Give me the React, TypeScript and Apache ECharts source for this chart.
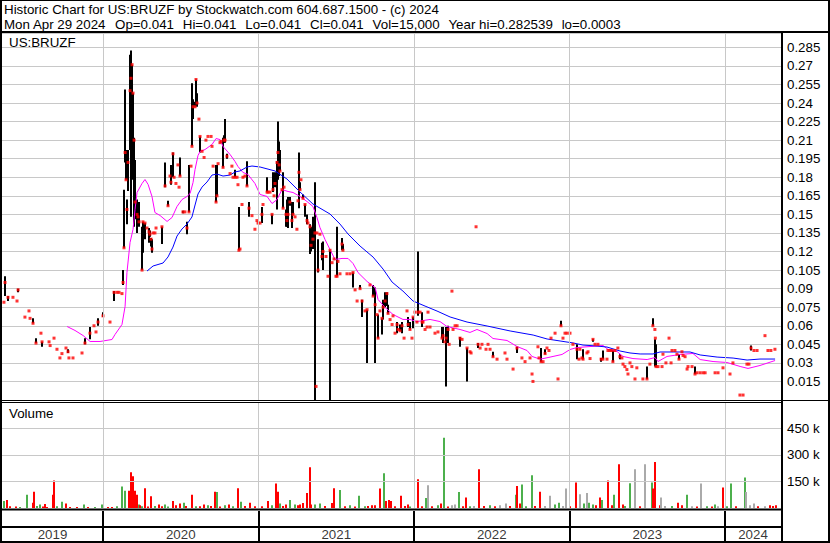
import React, { useEffect, useRef } from "react";
import * as echarts from "echarts";

// ---------- data ----------
// time is in decimal years; price tuples: [t, high, low, close]
const prices2019 = [
  [2019.363, 0.079, 0.079, 0.079], [2019.370, 0.100, 0.084, 0.095], [2019.389, 0.084, 0.080, 0.083],
  [2019.421, 0.083, 0.083, 0.083], [2019.447, 0.080, 0.080, 0.080], [2019.454, 0.090, 0.087, 0.089],
  [2019.498, 0.067, 0.067, 0.067], [2019.524, 0.072, 0.072, 0.072], [2019.531, 0.066, 0.066, 0.066],
  [2019.550, 0.066, 0.062, 0.062], [2019.569, 0.050, 0.046, 0.046], [2019.601, 0.054, 0.054, 0.054],
  [2019.608, 0.047, 0.043, 0.047], [2019.653, 0.047, 0.047, 0.047], [2019.660, 0.044, 0.044, 0.044],
  [2019.685, 0.050, 0.050, 0.050], [2019.704, 0.041, 0.041, 0.041], [2019.723, 0.034, 0.034, 0.034],
  [2019.736, 0.0375, 0.0375, 0.0375], [2019.762, 0.042, 0.042, 0.042], [2019.775, 0.041, 0.038, 0.039],
  [2019.781, 0.034, 0.034, 0.034], [2019.807, 0.034, 0.034, 0.034], [2019.865, 0.038, 0.038, 0.038],
  [2019.884, 0.050, 0.045, 0.046], [2019.916, 0.059, 0.049, 0.054], [2019.942, 0.060, 0.060, 0.060],
  [2019.955, 0.055, 0.055, 0.055], [2019.968, 0.066, 0.060, 0.063],
];
const prices2020 = [
  [2020.000, 0.071, 0.067, 0.068], [2020.045, 0.063, 0.063, 0.063], [2020.071, 0.088, 0.080, 0.087],
  [2020.090, 0.087, 0.087, 0.087], [2020.103, 0.087, 0.087, 0.087], [2020.122, 0.086, 0.086, 0.086],
  [2020.129, 0.105, 0.093, 0.095], [2020.135, 0.170, 0.123, 0.123], [2020.142, 0.251, 0.192, 0.200],
  [2020.148, 0.202, 0.178, 0.178], [2020.154, 0.162, 0.142, 0.154], [2020.161, 0.202, 0.169, 0.192],
  [2020.174, 0.279, 0.202, 0.250], [2020.180, 0.2825, 0.148, 0.260], [2020.187, 0.271, 0.235, 0.271],
  [2020.193, 0.248, 0.178, 0.248], [2020.200, 0.212, 0.140, 0.210], [2020.206, 0.194, 0.146, 0.160],
  [2020.219, 0.162, 0.135, 0.150], [2020.225, 0.160, 0.145, 0.148], [2020.232, 0.160, 0.140, 0.144],
  [2020.251, 0.140, 0.105, 0.105], [2020.257, 0.144, 0.119, 0.144], [2020.270, 0.143, 0.130, 0.143],
  [2020.283, 0.139, 0.139, 0.139], [2020.296, 0.139, 0.127, 0.136], [2020.302, 0.137, 0.132, 0.134],
  [2020.309, 0.131, 0.124, 0.130], [2020.315, 0.130, 0.119, 0.122], [2020.322, 0.135, 0.135, 0.135],
  [2020.334, 0.135, 0.135, 0.135], [2020.341, 0.139, 0.139, 0.139], [2020.379, 0.140, 0.126, 0.140],
  [2020.399, 0.192, 0.172, 0.173], [2020.418, 0.161, 0.157, 0.157], [2020.431, 0.181, 0.181, 0.181],
  [2020.437, 0.190, 0.174, 0.176], [2020.450, 0.200, 0.180, 0.199], [2020.457, 0.180, 0.180, 0.180],
  [2020.469, 0.175, 0.175, 0.175], [2020.482, 0.190, 0.190, 0.190], [2020.489, 0.172, 0.172, 0.172],
  [2020.495, 0.196, 0.181, 0.181], [2020.514, 0.153, 0.151, 0.152], [2020.527, 0.152, 0.152, 0.152],
  [2020.540, 0.144, 0.134, 0.139], [2020.553, 0.190, 0.152, 0.152], [2020.566, 0.189, 0.189, 0.189],
  [2020.572, 0.256, 0.205, 0.205], [2020.579, 0.243, 0.227, 0.237], [2020.592, 0.241, 0.237, 0.237],
  [2020.598, 0.259, 0.239, 0.259], [2020.605, 0.248, 0.237, 0.240], [2020.617, 0.227, 0.227, 0.227],
  [2020.624, 0.213, 0.200, 0.213], [2020.637, 0.201, 0.201, 0.201], [2020.650, 0.196, 0.196, 0.196],
  [2020.662, 0.210, 0.210, 0.210], [2020.675, 0.213, 0.213, 0.213], [2020.695, 0.213, 0.213, 0.213],
  [2020.701, 0.205, 0.205, 0.205], [2020.708, 0.189, 0.189, 0.189], [2020.727, 0.190, 0.160, 0.160],
  [2020.733, 0.190, 0.165, 0.165], [2020.740, 0.191, 0.191, 0.191], [2020.752, 0.208, 0.208, 0.208],
  [2020.759, 0.209, 0.209, 0.209], [2020.772, 0.212, 0.188, 0.188], [2020.778, 0.214, 0.208, 0.210],
  [2020.785, 0.227, 0.208, 0.210], [2020.797, 0.199, 0.195, 0.197], [2020.817, 0.183, 0.183, 0.183],
  [2020.829, 0.189, 0.189, 0.189], [2020.836, 0.180, 0.180, 0.180], [2020.849, 0.186, 0.180, 0.180],
  [2020.862, 0.180, 0.180, 0.180], [2020.868, 0.174, 0.174, 0.174], [2020.874, 0.156, 0.121, 0.121],
  [2020.881, 0.122, 0.122, 0.122], [2020.894, 0.158, 0.158, 0.158], [2020.900, 0.180, 0.180, 0.180],
  [2020.913, 0.181, 0.181, 0.181], [2020.926, 0.193, 0.173, 0.173], [2020.939, 0.160, 0.148, 0.155],
  [2020.958, 0.149, 0.149, 0.149], [2020.977, 0.138, 0.138, 0.138], [2020.990, 0.145, 0.145, 0.145],
  [2020.997, 0.143, 0.143, 0.143],
];
const prices2021 = [
  [2021.010, 0.143, 0.143, 0.143], [2021.022, 0.156, 0.143, 0.150], [2021.029, 0.158, 0.158, 0.158],
  [2021.055, 0.180, 0.168, 0.168], [2021.061, 0.168, 0.168, 0.168], [2021.074, 0.168, 0.168, 0.168],
  [2021.087, 0.150, 0.142, 0.150], [2021.093, 0.184, 0.168, 0.170], [2021.100, 0.165, 0.165, 0.165],
  [2021.106, 0.184, 0.172, 0.175], [2021.119, 0.193, 0.154, 0.192], [2021.125, 0.225, 0.178, 0.200],
  [2021.132, 0.209, 0.181, 0.190], [2021.138, 0.202, 0.185, 0.185], [2021.151, 0.170, 0.170, 0.170],
  [2021.158, 0.184, 0.155, 0.155], [2021.164, 0.172, 0.172, 0.172], [2021.177, 0.154, 0.140, 0.150],
  [2021.183, 0.162, 0.140, 0.145], [2021.190, 0.164, 0.139, 0.150], [2021.202, 0.164, 0.157, 0.160],
  [2021.215, 0.160, 0.139, 0.145], [2021.222, 0.160, 0.150, 0.150], [2021.235, 0.148, 0.148, 0.148],
  [2021.247, 0.138, 0.138, 0.138], [2021.254, 0.161, 0.161, 0.161], [2021.260, 0.200, 0.155, 0.184],
  [2021.267, 0.176, 0.170, 0.170], [2021.273, 0.178, 0.178, 0.178], [2021.286, 0.166, 0.163, 0.163],
  [2021.299, 0.158, 0.148, 0.158], [2021.312, 0.150, 0.142, 0.145], [2021.318, 0.143, 0.143, 0.143],
  [2021.331, 0.142, 0.118, 0.140], [2021.338, 0.140, 0.120, 0.125], [2021.350, 0.148, 0.122, 0.130],
  [2021.363, 0.176, 0.0, 0.135], [2021.370, 0.011, 0.011, 0.011], [2021.376, 0.135, 0.135, 0.135],
  [2021.383, 0.130, 0.103, 0.105], [2021.395, 0.134, 0.134, 0.134], [2021.408, 0.127, 0.113, 0.116],
  [2021.415, 0.128, 0.105, 0.120], [2021.434, 0.116, 0.116, 0.116], [2021.447, 0.100, 0.100, 0.100],
  [2021.460, 0.121, 0.0, 0.121], [2021.473, 0.111, 0.111, 0.111], [2021.486, 0.114, 0.114, 0.114],
  [2021.498, 0.100, 0.100, 0.100], [2021.505, 0.140, 0.100, 0.100], [2021.511, 0.112, 0.112, 0.112],
  [2021.524, 0.102, 0.102, 0.102], [2021.537, 0.131, 0.121, 0.126], [2021.543, 0.126, 0.121, 0.121],
  [2021.569, 0.102, 0.102, 0.102], [2021.589, 0.102, 0.102, 0.102], [2021.608, 0.103, 0.091, 0.103],
  [2021.621, 0.089, 0.089, 0.089], [2021.634, 0.080, 0.080, 0.080], [2021.653, 0.093, 0.090, 0.090],
  [2021.666, 0.081, 0.067, 0.080], [2021.685, 0.072, 0.072, 0.072], [2021.698, 0.073, 0.030, 0.073],
  [2021.717, 0.093, 0.093, 0.093], [2021.737, 0.093, 0.084, 0.084], [2021.750, 0.091, 0.030, 0.077],
  [2021.762, 0.069, 0.069, 0.069], [2021.769, 0.069, 0.050, 0.050], [2021.781, 0.072, 0.072, 0.072],
  [2021.794, 0.066, 0.053, 0.066], [2021.801, 0.081, 0.065, 0.075], [2021.814, 0.087, 0.075, 0.080],
  [2021.826, 0.087, 0.076, 0.086], [2021.833, 0.077, 0.070, 0.070], [2021.846, 0.065, 0.065, 0.065],
  [2021.859, 0.061, 0.061, 0.061], [2021.865, 0.068, 0.068, 0.068], [2021.878, 0.054, 0.054, 0.054],
  [2021.891, 0.063, 0.054, 0.061], [2021.897, 0.057, 0.057, 0.057], [2021.910, 0.061, 0.056, 0.056],
  [2021.923, 0.063, 0.054, 0.060], [2021.936, 0.050, 0.050, 0.050], [2021.955, 0.072, 0.072, 0.072],
  [2021.962, 0.067, 0.059, 0.061], [2021.974, 0.063, 0.057, 0.057], [2021.987, 0.050, 0.050, 0.050],
  [2021.994, 0.067, 0.058, 0.067],
];
const prices2022 = [
  [2022.006, 0.071, 0.071, 0.071], [2022.019, 0.063, 0.063, 0.063], [2022.026, 0.120, 0.068, 0.071],
  [2022.039, 0.071, 0.071, 0.071], [2022.052, 0.071, 0.059, 0.063], [2022.058, 0.063, 0.063, 0.063],
  [2022.071, 0.057, 0.057, 0.057], [2022.084, 0.059, 0.059, 0.059], [2022.090, 0.071, 0.071, 0.071],
  [2022.103, 0.059, 0.059, 0.059], [2022.135, 0.054, 0.054, 0.054], [2022.154, 0.055, 0.055, 0.055],
  [2022.180, 0.059, 0.050, 0.050], [2022.187, 0.059, 0.046, 0.052], [2022.199, 0.047, 0.047, 0.047],
  [2022.206, 0.059, 0.011, 0.050], [2022.219, 0.060, 0.046, 0.057], [2022.226, 0.045, 0.045, 0.045],
  [2022.244, 0.088, 0.088, 0.088], [2022.251, 0.057, 0.057, 0.057], [2022.264, 0.060, 0.060, 0.060],
  [2022.277, 0.060, 0.060, 0.060], [2022.296, 0.051, 0.043, 0.050], [2022.309, 0.049, 0.049, 0.049],
  [2022.341, 0.042, 0.015, 0.042], [2022.360, 0.039, 0.039, 0.039], [2022.367, 0.038, 0.038, 0.038],
  [2022.399, 0.140, 0.140, 0.140], [2022.412, 0.046, 0.042, 0.045], [2022.425, 0.042, 0.042, 0.042],
  [2022.437, 0.045, 0.045, 0.045], [2022.463, 0.041, 0.041, 0.041], [2022.476, 0.045, 0.045, 0.045],
  [2022.489, 0.041, 0.041, 0.041], [2022.508, 0.039, 0.035, 0.035], [2022.534, 0.033, 0.033, 0.033],
  [2022.585, 0.038, 0.038, 0.038], [2022.598, 0.033, 0.033, 0.033], [2022.637, 0.025, 0.025, 0.025],
  [2022.662, 0.043, 0.038, 0.042], [2022.694, 0.034, 0.034, 0.034], [2022.714, 0.031, 0.031, 0.031],
  [2022.746, 0.034, 0.034, 0.034], [2022.759, 0.021, 0.021, 0.021], [2022.765, 0.015, 0.015, 0.015],
  [2022.797, 0.043, 0.043, 0.043], [2022.804, 0.034, 0.034, 0.034], [2022.817, 0.042, 0.031, 0.031],
  [2022.830, 0.031, 0.031, 0.031], [2022.843, 0.041, 0.037, 0.0375], [2022.855, 0.042, 0.042, 0.042],
  [2022.868, 0.040, 0.040, 0.040], [2022.881, 0.050, 0.050, 0.050], [2022.907, 0.054, 0.054, 0.054],
  [2022.926, 0.017, 0.017, 0.017], [2022.945, 0.064, 0.060, 0.060], [2022.958, 0.050, 0.050, 0.050],
  [2022.971, 0.054, 0.054, 0.054], [2022.984, 0.054, 0.054, 0.054],
];
const prices2023 = [
  [2023.003, 0.054, 0.054, 0.054], [2023.022, 0.045, 0.045, 0.045], [2023.048, 0.045, 0.033, 0.041],
  [2023.061, 0.033, 0.033, 0.033], [2023.067, 0.041, 0.041, 0.041], [2023.080, 0.034, 0.034, 0.034],
  [2023.087, 0.041, 0.033, 0.033], [2023.112, 0.038, 0.038, 0.038], [2023.119, 0.039, 0.039, 0.039],
  [2023.132, 0.0335, 0.0335, 0.0335], [2023.151, 0.049, 0.047, 0.049], [2023.164, 0.045, 0.045, 0.045],
  [2023.183, 0.045, 0.045, 0.045], [2023.203, 0.034, 0.031, 0.033], [2023.215, 0.040, 0.033, 0.033],
  [2023.241, 0.033, 0.033, 0.033], [2023.247, 0.040, 0.040, 0.040], [2023.260, 0.040, 0.040, 0.040],
  [2023.273, 0.040, 0.040, 0.040], [2023.279, 0.040, 0.031, 0.031], [2023.292, 0.040, 0.040, 0.040],
  [2023.311, 0.042, 0.042, 0.042], [2023.324, 0.037, 0.033, 0.035], [2023.337, 0.034, 0.034, 0.034],
  [2023.344, 0.029, 0.029, 0.029], [2023.356, 0.027, 0.027, 0.027], [2023.369, 0.0246, 0.0246, 0.0246],
  [2023.376, 0.021, 0.021, 0.021], [2023.389, 0.030, 0.030, 0.030], [2023.401, 0.027, 0.027, 0.027],
  [2023.421, 0.017, 0.017, 0.017], [2023.433, 0.026, 0.026, 0.026], [2023.472, 0.017, 0.017, 0.017],
  [2023.498, 0.027, 0.017, 0.017], [2023.517, 0.029, 0.029, 0.029], [2023.536, 0.066, 0.060, 0.060],
  [2023.549, 0.057, 0.057, 0.057], [2023.552, 0.049, 0.027, 0.050], [2023.556, 0.045, 0.027, 0.027],
  [2023.569, 0.027, 0.027, 0.027], [2023.595, 0.027, 0.027, 0.027], [2023.601, 0.037, 0.037, 0.037],
  [2023.620, 0.030, 0.030, 0.030], [2023.640, 0.050, 0.050, 0.050], [2023.653, 0.030, 0.030, 0.030],
  [2023.659, 0.040, 0.040, 0.040], [2023.678, 0.040, 0.040, 0.040], [2023.691, 0.037, 0.037, 0.037],
  [2023.704, 0.037, 0.033, 0.033], [2023.723, 0.039, 0.039, 0.039], [2023.730, 0.036, 0.036, 0.036],
  [2023.743, 0.035, 0.035, 0.035], [2023.756, 0.025, 0.025, 0.025], [2023.762, 0.027, 0.027, 0.027],
  [2023.788, 0.027, 0.027, 0.027], [2023.807, 0.027, 0.021, 0.021], [2023.820, 0.022, 0.022, 0.022],
  [2023.840, 0.022, 0.022, 0.022], [2023.859, 0.022, 0.022, 0.022], [2023.872, 0.022, 0.022, 0.022],
  [2023.936, 0.022, 0.022, 0.022], [2023.955, 0.022, 0.022, 0.022], [2023.987, 0.026, 0.026, 0.026],
];
const prices2024 = [
  [2024.032, 0.021, 0.021, 0.021], [2024.051, 0.030, 0.030, 0.030], [2024.096, 0.004, 0.004, 0.004],
  [2024.116, 0.004, 0.004, 0.004], [2024.141, 0.029, 0.029, 0.029], [2024.154, 0.029, 0.029, 0.029],
  [2024.167, 0.044, 0.040, 0.042], [2024.186, 0.040, 0.040, 0.040], [2024.206, 0.040, 0.040, 0.040],
  [2024.257, 0.052, 0.052, 0.052], [2024.276, 0.040, 0.040, 0.040], [2024.295, 0.040, 0.040, 0.040],
  [2024.321, 0.041, 0.041, 0.041],
];

// moving averages: [t, value]
const shortAvg = [
  [2019.769, 0.0594], [2019.820, 0.0562], [2019.872, 0.0521], [2019.917, 0.0473], [2019.981, 0.0473],
  [2020.058, 0.0489], [2020.077, 0.0529], [2020.122, 0.0610], [2020.142, 0.0756], [2020.154, 0.1030],
  [2020.174, 0.1273], [2020.193, 0.1378], [2020.206, 0.1540], [2020.219, 0.1677], [2020.251, 0.1750],
  [2020.270, 0.1782], [2020.290, 0.1742], [2020.315, 0.1645], [2020.334, 0.1515], [2020.367, 0.1491],
  [2020.412, 0.1443], [2020.444, 0.1475], [2020.476, 0.1564], [2020.508, 0.1620], [2020.540, 0.1645],
  [2020.560, 0.1669], [2020.579, 0.1758], [2020.592, 0.1863], [2020.611, 0.1976], [2020.624, 0.2008],
  [2020.656, 0.2024], [2020.701, 0.2065], [2020.727, 0.2113], [2020.752, 0.2105], [2020.772, 0.2049],
  [2020.817, 0.1984], [2020.849, 0.1928], [2020.868, 0.1887], [2020.900, 0.1839], [2020.932, 0.1823],
  [2020.977, 0.1750], [2021.010, 0.1661], [2021.055, 0.1645], [2021.087, 0.1588], [2021.119, 0.1620],
  [2021.151, 0.1701], [2021.190, 0.1685], [2021.222, 0.1677], [2021.267, 0.1645], [2021.312, 0.1604],
  [2021.350, 0.1564], [2021.376, 0.1475], [2021.395, 0.1394], [2021.428, 0.1297], [2021.460, 0.1216],
  [2021.492, 0.1136], [2021.537, 0.1144], [2021.576, 0.1144], [2021.608, 0.1103], [2021.640, 0.1030],
  [2021.698, 0.0958], [2021.750, 0.0909], [2021.769, 0.0812], [2021.814, 0.0748], [2021.865, 0.0691],
  [2021.929, 0.0651], [2021.974, 0.0651], [2022.019, 0.0634], [2022.103, 0.0651], [2022.167, 0.0634],
  [2022.212, 0.0594], [2022.296, 0.0570], [2022.360, 0.0546], [2022.405, 0.0570], [2022.470, 0.0537],
  [2022.508, 0.0497], [2022.598, 0.0481], [2022.663, 0.0432], [2022.727, 0.0400], [2022.759, 0.0352],
  [2022.811, 0.0330], [2022.862, 0.0343], [2022.894, 0.0352], [2022.952, 0.0368], [2023.003, 0.0408],
  [2023.048, 0.0424], [2023.132, 0.0432], [2023.216, 0.0440], [2023.248, 0.0408], [2023.306, 0.0392],
  [2023.344, 0.0352], [2023.408, 0.0335], [2023.499, 0.0327], [2023.550, 0.0343], [2023.569, 0.0311],
  [2023.627, 0.0352], [2023.711, 0.0368], [2023.794, 0.0376], [2023.840, 0.0327], [2023.923, 0.0311],
  [2024.013, 0.0303], [2024.097, 0.0271], [2024.148, 0.0255], [2024.225, 0.0279], [2024.322, 0.0319],
];
const longAvg = [
  [2020.283, 0.1042], [2020.322, 0.1083], [2020.386, 0.1107], [2020.418, 0.1156], [2020.450, 0.1236],
  [2020.476, 0.1325], [2020.508, 0.1382], [2020.540, 0.1422], [2020.572, 0.1479], [2020.592, 0.1576],
  [2020.611, 0.1665], [2020.637, 0.1721], [2020.669, 0.1762], [2020.701, 0.1818], [2020.733, 0.1826],
  [2020.772, 0.1810], [2020.817, 0.1818], [2020.849, 0.1843], [2020.881, 0.1851], [2020.926, 0.1883],
  [2020.958, 0.1891], [2021.010, 0.1883], [2021.106, 0.1851], [2021.183, 0.1786], [2021.267, 0.1681],
  [2021.350, 0.1584], [2021.460, 0.1503], [2021.524, 0.1422], [2021.576, 0.1341], [2021.653, 0.1244],
  [2021.737, 0.1155], [2021.801, 0.1058], [2021.859, 0.0953], [2021.929, 0.0880], [2021.994, 0.0800],
  [2022.071, 0.0759], [2022.148, 0.0719], [2022.232, 0.0671], [2022.341, 0.0630], [2022.470, 0.0598],
  [2022.618, 0.0558], [2022.766, 0.0525], [2022.856, 0.0493], [2022.939, 0.0477], [2023.023, 0.0461],
  [2023.087, 0.0444], [2023.177, 0.0436], [2023.241, 0.0428], [2023.325, 0.0396], [2023.389, 0.0380],
  [2023.454, 0.0372], [2023.537, 0.0372], [2023.582, 0.0388], [2023.666, 0.0388], [2023.775, 0.0388],
  [2023.840, 0.0364], [2023.949, 0.0347], [2024.052, 0.0339], [2024.142, 0.0323], [2024.225, 0.0331],
  [2024.322, 0.0331],
];

// volume: [t, volume, direction] direction 1 = up (green), -1 = down (red), 0 = unchanged (grey)
const volume2019 = [
  [2019.364, 40000, 1], [2019.383, 45000, -1], [2019.402, 10000, -1], [2019.441, 8000, -1], [2019.467, 5000, 1],
  [2019.512, 75000, 1], [2019.550, 30000, -1], [2019.557, 92000, -1], [2019.576, 12000, 1], [2019.595, 20000, 1],
  [2019.615, 8000, -1], [2019.627, 22000, -1], [2019.640, 6000, -1], [2019.679, 75000, -1], [2019.685, 156000, -1],
  [2019.705, 10000, 1], [2019.737, 35000, 1], [2019.762, 25000, -1], [2019.788, 6000, -1], [2019.833, 5000, -1],
  [2019.878, 20000, 1], [2019.904, 5000, -1], [2019.949, 5000, 1], [2019.994, 20000, 1],
];
const volume2020 = [
  [2020.033, 5000, -1], [2020.058, 5000, -1], [2020.090, 10000, 1], [2020.123, 121000, 1], [2020.142, 98000, 1],
  [2020.168, 98000, -1], [2020.180, 202000, -1], [2020.193, 179000, -1], [2020.206, 98000, -1], [2020.216, 75000, -1],
  [2020.229, 20000, 1], [2020.238, 15000, -1], [2020.251, 10000, 1], [2020.270, 112000, -1], [2020.290, 8000, -1],
  [2020.309, 67000, -1], [2020.335, 12000, 1], [2020.361, 20000, -1], [2020.380, 10000, -1], [2020.399, 20000, 1],
  [2020.418, 8000, 1], [2020.451, 40000, -1], [2020.470, 15000, -1], [2020.496, 25000, -1], [2020.521, 30000, 1],
  [2020.534, 12000, -1], [2020.573, 75000, -1], [2020.599, 10000, 1], [2020.624, 10000, -1], [2020.650, 20000, -1],
  [2020.676, 15000, 1], [2020.695, 12000, -1], [2020.721, 92000, -1], [2020.734, 90000, 1], [2020.753, 8000, -1],
  [2020.785, 15000, 1], [2020.811, 20000, -1], [2020.836, 10000, 1], [2020.869, 112000, -1], [2020.888, 35000, 1],
  [2020.914, 12000, -1], [2020.946, 30000, -1], [2020.978, 10000, -1],
];
const volume2021 = [
  [2021.023, 10000, -1], [2021.062, 40000, -1], [2021.087, 15000, 1], [2021.113, 139000, -1], [2021.126, 92000, -1],
  [2021.139, 25000, 1], [2021.158, 12000, -1], [2021.177, 20000, -1], [2021.203, 45000, 1], [2021.235, 20000, 1],
  [2021.254, 15000, -1], [2021.267, 20000, -1], [2021.287, 28000, -1], [2021.312, 85000, -1], [2021.332, 231000, -1],
  [2021.338, 20000, -1], [2021.364, 20000, 1], [2021.396, 25000, 1], [2021.428, 12000, -1], [2021.473, 28000, -1],
  [2021.486, 112000, -1], [2021.525, 102000, 1], [2021.557, 10000, -1], [2021.589, 15000, 1], [2021.621, 8000, -1],
  [2021.647, 70000, 1], [2021.685, 10000, 1], [2021.705, 12000, -1], [2021.730, 15000, -1], [2021.750, 15000, -1],
  [2021.782, 110000, -1], [2021.808, 196000, 1], [2021.820, 40000, -1], [2021.840, 45000, -1], [2021.853, 40000, -1],
  [2021.878, 10000, -1], [2021.917, 70000, -1], [2021.943, 12000, -1], [2021.962, 20000, -1], [2021.975, 8000, 1],
];
const volume2022 = [
  [2022.026, 162000, -1], [2022.052, 10000, -1], [2022.078, 57000, 1], [2022.091, 128000, 0], [2022.116, 10000, -1],
  [2022.155, 15000, 1], [2022.174, 25000, -1], [2022.193, 398000, 1], [2022.219, 8000, -1], [2022.245, 15000, 0],
  [2022.264, 20000, 0], [2022.290, 90000, 1], [2022.316, 10000, -1], [2022.335, 60000, -1], [2022.361, 10000, 1],
  [2022.386, 12000, 0], [2022.418, 219000, -1], [2022.451, 12000, -1], [2022.489, 15000, 1], [2022.521, 10000, -1],
  [2022.554, 15000, 0], [2022.592, 25000, 0], [2022.618, 12000, -1], [2022.656, 75000, 1], [2022.663, 125000, -1],
  [2022.682, 25000, -1], [2022.695, 133000, 1], [2022.721, 10000, 1], [2022.759, 185000, 1], [2022.779, 12000, -1],
  [2022.811, 92000, -1], [2022.843, 12000, 0], [2022.875, 70000, 0], [2022.907, 20000, 1], [2022.933, 30000, 1],
  [2022.959, 12000, 0], [2022.978, 110000, 0],
];
const volume2023 = [
  [2023.004, 10000, -1], [2023.042, 144000, -1], [2023.068, 78000, 0], [2023.094, 25000, 1], [2023.113, 85000, 0],
  [2023.126, 30000, 1], [2023.152, 20000, 1], [2023.171, 15000, -1], [2023.197, 60000, -1], [2023.210, 45000, 1],
  [2023.248, 156000, -1], [2023.274, 15000, -1], [2023.287, 75000, 1], [2023.319, 248000, -1], [2023.345, 20000, -1],
  [2023.357, 12000, 1], [2023.390, 140000, 1], [2023.422, 219000, 0], [2023.454, 10000, -1], [2023.486, 248000, 0],
  [2023.531, 144000, 1], [2023.537, 110000, -1], [2023.550, 260000, -1], [2023.583, 15000, -1], [2023.589, 60000, 0],
  [2023.615, 12000, 0], [2023.660, 12000, 1], [2023.698, 30000, -1], [2023.724, 15000, -1], [2023.756, 75000, 1],
  [2023.788, 10000, 0], [2023.820, 8000, -1], [2023.846, 139000, 0], [2023.885, 10000, 1], [2023.917, 8000, -1],
  [2023.936, 20000, 1], [2023.956, 10000, 0], [2023.988, 116000, -1],
];
const volume2024 = [
  [2024.013, 10000, 1], [2024.039, 139000, 1], [2024.071, 10000, -1], [2024.129, 173000, 1], [2024.136, 90000, 0],
  [2024.161, 15000, 0], [2024.187, 25000, 0], [2024.213, 10000, -1], [2024.258, 10000, 0], [2024.290, 15000, -1],
  [2024.309, 12000, -1], [2024.329, 15000, -1],
];

const yearTicks = [2020, 2021, 2022, 2023, 2024];
const yearLabels = [2019, 2020, 2021, 2022, 2023, 2024];
const volumeGridValues = [150000, 300000, 450000];

const titleLine = "Historic Chart for US:BRUZF by Stockwatch.com 604.687.1500 - (c) 2024";
const quoteParts = [
  "Mon Apr 29 2024", "Op=0.041", "Hi=0.041", "Lo=0.041", "Cl=0.041", "Vol=15,000", "Year hi=0.282539", "lo=0.0003",
];
const symbolName = "US:BRUZF";

// ---------- layout / styles ----------
const X_MIN = 2019.3505;
const X_MAX = 2024.36;
const FONT = '"Liberation Sans", Arial, Helvetica, sans-serif';
const FS = 13.33;
const GRID_GREY = "#c8c8c8";
const UP = "#4cb04c";
const DOWN = "#ff0000";
const FLAT = "#aaaaaa";
const QUOTE_GAP = 8.8;

const prices = [...prices2019, ...prices2020, ...prices2021, ...prices2022, ...prices2023, ...prices2024];
const volumes = [...volume2019, ...volume2020, ...volume2021, ...volume2022, ...volume2023, ...volume2024];

const frame = (x: number, y: number, w: number, h: number) => ({
  type: "rect",
  shape: { x, y, width: w, height: h },
  style: { fill: "#000" },
  z: 100,
  silent: true,
});

const textEl = (text: string, x: number, y: number) => ({
  type: "text",
  x,
  y,
  z: 100,
  silent: true,
  style: {
    text,
    font: `${FS}px ${FONT}`,
    fill: "#000",
    textVerticalAlign: "middle",
    verticalAlign: "middle",
  },
});

function quoteElements() {
  const ctx = document.createElement("canvas").getContext("2d");
  const els: any[] = [];
  let x = 4;
  quoteParts.forEach((p) => {
    els.push(textEl(p, x, 24));
    let w = p.length * 7;
    if (ctx) {
      ctx.font = `${FS}px ${FONT}`;
      w = ctx.measureText(p).width;
    }
    x += w + QUOTE_GAP;
  });
  return els;
}

function buildOption() {
  const xAxisBase = (gridIndex: number) => ({
    type: "value",
    gridIndex,
    min: X_MIN,
    max: X_MAX,
    show: false,
  });
  const vLines = (color: string, width: number) =>
    yearTicks.map((y) => ({ xAxis: y, lineStyle: { color, width, type: "solid" } }));
  const markBase = {
    silent: true,
    symbol: ["none", "none"],
    label: { show: false },
    emphasis: { disabled: true },
  };
  const yearMid = yearLabels.map((y) => {
    const lo = Math.max(y, X_MIN);
    const hi = Math.min(y + 1, X_MAX);
    return { value: [(lo + hi) / 2, 0.5], name: String(y) };
  });

  return {
    animation: false,
    backgroundColor: "#ffffff",
    textStyle: { fontFamily: FONT },
    grid: [
      { left: 2, top: 33, width: 779, height: 367 },
      { left: 2, top: 403, width: 779, height: 105 },
      { left: 2, top: 511, width: 779, height: 15 },
      { left: 2, top: 528, width: 779, height: 13 },
    ],
    xAxis: [xAxisBase(0), xAxisBase(1), xAxisBase(2), xAxisBase(3)],
    yAxis: [
      {
        type: "value",
        gridIndex: 0,
        position: "right",
        min: 0,
        max: 0.2966,
        interval: 0.015,
        axisLine: { show: false },
        axisTick: { show: false },
        axisLabel: {
          showMinLabel: false,
          showMaxLabel: false,
          margin: 6,
          color: "#000",
          fontSize: FS,
          fontFamily: FONT,
          formatter: (v: number) => String(+v.toFixed(3)),
        },
        splitLine: { show: true, lineStyle: { color: GRID_GREY, width: 1 } },
      },
      {
        type: "value",
        gridIndex: 1,
        position: "right",
        min: 0,
        max: 594000,
        interval: 150000,
        axisLine: { show: false },
        axisTick: { show: false },
        axisLabel: {
          showMinLabel: false,
          showMaxLabel: false,
          margin: 6,
          color: "#000",
          fontSize: FS,
          fontFamily: FONT,
          formatter: (v: number) => `${Math.round(v / 1000)} k`,
        },
        splitLine: { show: false },
      },
      { type: "value", gridIndex: 2, min: 0, max: 1, show: false },
      { type: "value", gridIndex: 3, min: 0, max: 1, show: false },
    ],
    series: [
      // price panel year grid lines
      {
        type: "line",
        xAxisIndex: 0,
        yAxisIndex: 0,
        data: yearTicks.map((y) => [y, 0]),
        showSymbol: false,
        lineStyle: { opacity: 0 },
        silent: true,
        z: 1,
        markLine: { ...markBase, data: vLines(GRID_GREY, 1) },
      },
      // high-low bars
      {
        type: "custom",
        xAxisIndex: 0,
        yAxisIndex: 0,
        dimensions: ["t", "hi", "lo", "cl"],
        encode: { x: 0, y: [1, 2] },
        data: prices,
        z: 2,
        silent: true,
        renderItem: (_p: any, api: any) => {
          const t = api.value(0);
          const hi = api.value(1);
          const lo = api.value(2);
          if (!(hi > lo)) return null;
          const a = api.coord([t, hi]);
          const b = api.coord([t, lo]);
          const x = Math.round(a[0]);
          return {
            type: "rect",
            shape: { x: x - 1, y: a[1], width: 2, height: Math.max(1, b[1] - a[1]) },
            style: { fill: "#000" },
          };
        },
      },
      {
        type: "line",
        xAxisIndex: 0,
        yAxisIndex: 0,
        data: shortAvg,
        showSymbol: false,
        lineStyle: { color: "#ff00ff", width: 1 },
        silent: true,
        z: 3,
      },
      {
        type: "line",
        xAxisIndex: 0,
        yAxisIndex: 0,
        data: longAvg,
        showSymbol: false,
        lineStyle: { color: "#0000ff", width: 1 },
        silent: true,
        z: 3,
      },
      {
        type: "scatter",
        xAxisIndex: 0,
        yAxisIndex: 0,
        data: prices.map((p) => [p[0], p[3]]),
        symbol: "rect",
        symbolSize: [3, 3],
        itemStyle: { color: "#ff0000" },
        silent: true,
        z: 4,
      },
      // volume panel grid lines
      {
        type: "line",
        xAxisIndex: 1,
        yAxisIndex: 1,
        data: yearTicks.map((y) => [y, 0]),
        showSymbol: false,
        lineStyle: { opacity: 0 },
        silent: true,
        z: 1,
        markLine: {
          ...markBase,
          data: [
            ...vLines(GRID_GREY, 1),
            ...volumeGridValues.map((v) => ({ yAxis: v, lineStyle: { color: GRID_GREY, width: 1, type: "solid" } })),
          ],
        },
      },
      {
        type: "custom",
        xAxisIndex: 1,
        yAxisIndex: 1,
        dimensions: ["t", "v", "d"],
        encode: { x: 0, y: 1 },
        data: volumes,
        z: 2,
        silent: true,
        renderItem: (_p: any, api: any) => {
          const t = api.value(0);
          const v = api.value(1);
          const d = api.value(2);
          const a = api.coord([t, v]);
          const b = api.coord([t, 0]);
          const x = Math.round(a[0]);
          return {
            type: "rect",
            shape: { x: x - 1, y: a[1], width: 2, height: b[1] - a[1] },
            style: { fill: d > 0 ? UP : d < 0 ? DOWN : FLAT },
          };
        },
      },
      // blank strip separators
      {
        type: "line",
        xAxisIndex: 2,
        yAxisIndex: 2,
        data: yearTicks.map((y) => [y, 0]),
        showSymbol: false,
        lineStyle: { opacity: 0 },
        silent: true,
        markLine: { ...markBase, data: vLines("#000", 2) },
      },
      // year labels strip
      {
        type: "scatter",
        xAxisIndex: 3,
        yAxisIndex: 3,
        data: yearMid,
        symbolSize: 0,
        silent: true,
        label: {
          show: true,
          position: "inside",
          formatter: (p: any) => p.name,
          color: "#000",
          fontSize: FS,
          fontFamily: FONT,
        },
        markLine: { ...markBase, data: vLines("#000", 2) },
      },
    ],
    graphic: [
      {
        type: "rect",
        shape: { x: 0.5, y: 0.5, width: 828, height: 541 },
        style: { fill: "none", stroke: "#000", lineWidth: 1 },
        z: 100,
        silent: true,
      },
      frame(0, 0, 2, 543),
      frame(828, 0, 2, 543),
      frame(0, 541, 830, 2),
      frame(0, 31, 830, 2),
      frame(781, 31, 2, 512),
      frame(0, 400, 830, 1),
      frame(0, 402, 781, 1),
      frame(0, 508.5, 781, 2),
      frame(0, 526, 781, 2),
      textEl(titleLine, 4, 9),
      ...quoteElements(),
      textEl(symbolName, 9, 42),
      textEl("Volume", 9, 413),
    ],
  };
}

export default function App() {
  const ref = useRef<HTMLDivElement>(null);
  useEffect(() => {
    if (!ref.current) return;
    const chart = echarts.init(ref.current, null, { renderer: "svg" });
    chart.setOption(buildOption() as any);
    return () => chart.dispose();
  }, []);
  return (
    <div
      ref={ref}
      style={{ position: "absolute", left: 0, top: 0, width: 830, height: 543, background: "#fff" }}
    />
  );
}
